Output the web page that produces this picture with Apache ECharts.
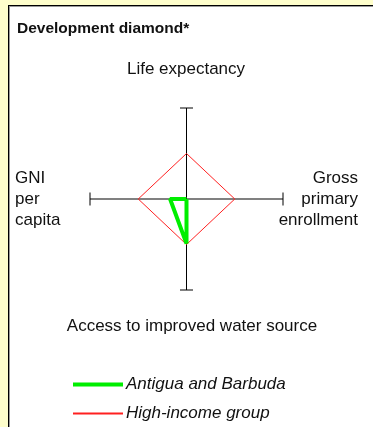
<!DOCTYPE html>
<html>
<head>
<meta charset="utf-8">
<script src="https://cdn.jsdelivr.net/npm/echarts@6/dist/echarts.min.js"></script>
<style>
html,body{margin:0;padding:0;width:373px;height:427px;background:#FFFFCC;overflow:hidden;}
#panel{position:absolute;left:8px;top:5px;width:365px;height:422px;background:#fff;border-top:1px solid #000;border-left:1px solid #000;box-shadow:inset 1px 1px 0 #9a9a9a;}
#chart{position:absolute;left:0;top:0;width:373px;height:427px;}
</style>
</head>
<body>
<div id="panel"></div>
<div id="chart"></div>
<script>
// Axis labels (clockwise from top)
const axisNames = ["Life expectancy", "Gross\nprimary\nenrollment", "Access to improved water source", "GNI\nper\ncapita"];
// Values per axis: [life expectancy, gross primary enrollment, water access, GNI per capita]
const countryName = "Antigua and Barbuda";
const countryValues = [0, 0, 0.98, 0.34];
const groupName = "High-income group";
const groupValues = [1, 1, 1, 1];
const axisMax = 2;

function diamond(v) {
  // top, right, bottom, left, back to top
  return [[0, v[0]], [v[1], 0], [0, -v[2]], [-v[3], 0], [0, v[0]]];
}

const chart = echarts.init(document.getElementById('chart'), null, {renderer: 'canvas'});
const font = 'Liberation Sans, Arial, sans-serif';
const green = '#00EE00', red = '#FF2020';
chart.setOption({
  backgroundColor: 'transparent',
  animation: false,
  title: {
    text: 'Development diamond*',
    left: 12, top: 16,
    textStyle: {fontFamily: font, fontSize: 15.5, fontWeight: 'bold', color: '#111'}
  },
  grid: {left: 90, right: 90, top: 108, bottom: 137, containLabel: false},
  xAxis: {type: 'value', min: -axisMax, max: axisMax, show: false},
  yAxis: {type: 'value', min: -axisMax, max: axisMax, show: false},
  legend: {
    data: [
      {name: countryName, lineStyle: {width: 4}},
      {name: groupName}
    ],
    orient: 'vertical',
    left: 66, top: 371,
    itemWidth: 50, itemHeight: 16, itemGap: 12,
    itemStyle: {opacity: 0},
    textStyle: {fontFamily: font, fontSize: 17, fontStyle: 'italic', color: '#111', padding: [0,0,0,-2]},
    selectedMode: false
  },
  graphic: [
    {type: 'text', x: 186, y: 61, style: {text: axisNames[0], font: '17px ' + font, fill: '#111', align: 'center', verticalAlign: 'top'}},
    {type: 'text', x: 358, y: 168, style: {text: axisNames[1], font: '17px ' + font, fill: '#111', align: 'right', verticalAlign: 'top', lineHeight: 21}},
    {type: 'text', x: 192, y: 318, style: {text: axisNames[2], font: '17px ' + font, fill: '#111', align: 'center', verticalAlign: 'top'}},
    {type: 'text', x: 15, y: 168, style: {text: axisNames[3], font: '17px ' + font, fill: '#111', align: 'left', verticalAlign: 'top', lineHeight: 21}}
  ],
  series: [
    {
      type: 'line', silent: true, data: [[-axisMax, 0], [axisMax, 0]],
      lineStyle: {color: '#808080', width: 2},
      symbol: 'rect', symbolSize: [1, 13], showSymbol: true,
      itemStyle: {color: '#000'}, z: 1
    },
    {
      type: 'line', silent: true, data: [[0, -axisMax], [0, axisMax]],
      lineStyle: {color: '#000', width: 1},
      symbol: 'rect', symbolSize: [13, 1], showSymbol: true,
      itemStyle: {color: '#000'}, z: 1
    },
    {
      name: groupName, type: 'line', silent: true, data: diamond(groupValues),
      lineStyle: {color: red, width: 1}, itemStyle: {color: red},
      symbol: 'none', z: 2
    },
    {
      name: countryName, type: 'line', silent: true, data: diamond(countryValues),
      lineStyle: {color: green, width: 4, join: 'bevel'}, itemStyle: {color: green},
      symbol: 'none', z: 3
    }
  ]
});
</script>
</body>
</html>
